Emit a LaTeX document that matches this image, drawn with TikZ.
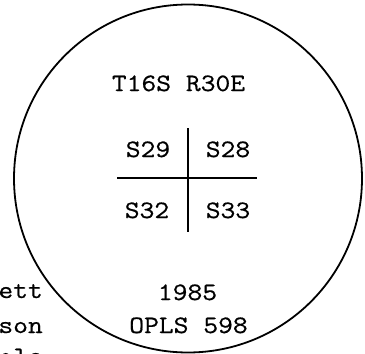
\documentclass[tikz,border=0pt]{standalone}
\usepackage{fontspec}
\setmonofont{Latin Modern Mono}[FakeStretch=1.15, FakeBold=0.6]

\begin{document}
\begin{tikzpicture}[x=1pt, y=-1pt,
    lbl/.style={font=\ttfamily\fontsize{25}{28}\selectfont, inner sep=0pt, anchor=base},
    rule/.style={line width=1.8pt}]
  \useasboundingbox (0,0) rectangle (365,354);
  \clip (0,0) rectangle (365,354);
  % Outline
  \draw[rule] (188,178.5) circle [radius=174pt];
  % Township and range
  \node[lbl] (twp) at (178.5,91) {T16S R30E};
  % Section corner
  \coordinate (ntop) at (188,128);
  \coordinate (nbot) at (188,232);
  \coordinate (wend) at (117,178);
  \coordinate (eend) at (257,178);
  \draw[rule] (ntop) -- (nbot);
  \draw[rule] (wend) -- (eend);
  \node[lbl] (s29) at (148,157) {S29};
  \node[lbl] (s28) at (228,157) {S28};
  \node[lbl] (s32) at (147,218) {S32};
  \node[lbl] (s33) at (228,218) {S33};
  % Year and number
  \node[lbl] (year) at (187.5,300) {1985};
  \node[lbl] (opls) at (188.5,333) {OPLS 598};
  % Cut off at left
  \node[lbl, anchor=base east] (ett) at (43,298) {ett};
  \node[lbl, anchor=base east] (son) at (43,333) {son};
  \node[lbl, anchor=base east] (ole) at (43,364) {ole};
\end{tikzpicture}
\end{document}
